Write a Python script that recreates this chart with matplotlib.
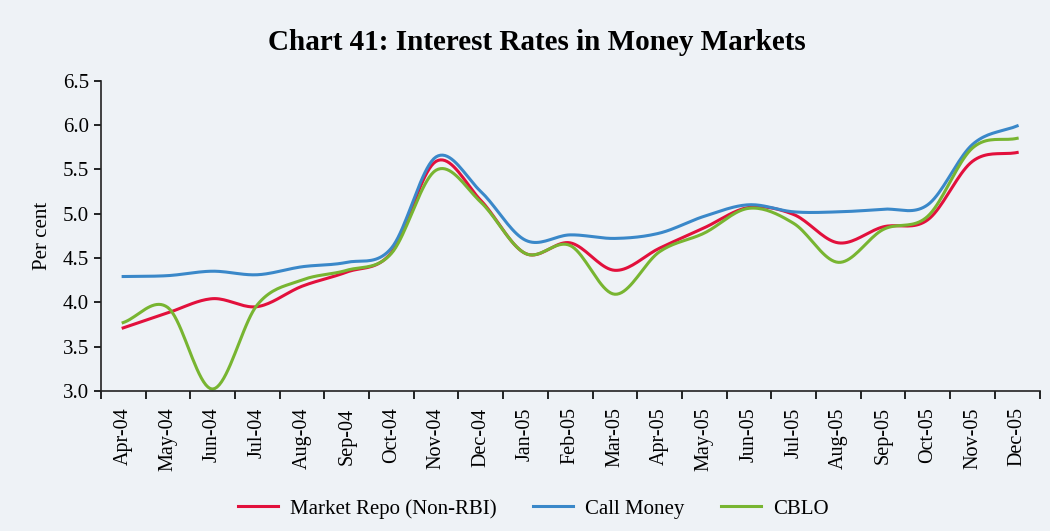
import numpy as np
import matplotlib.pyplot as plt

months = ["Apr-04", "May-04", "Jun-04", "Jul-04", "Aug-04", "Sep-04", "Oct-04",
          "Nov-04", "Dec-04", "Jan-05", "Feb-05", "Mar-05", "Apr-05", "May-05",
          "Jun-05", "Jul-05", "Aug-05", "Sep-05", "Oct-05", "Nov-05", "Dec-05"]

market_repo = [3.71, 3.88, 4.04, 3.95, 4.18, 4.34, 4.56, 5.59, 5.15, 4.55, 4.67,
               4.36, 4.61, 4.84, 5.07, 4.99, 4.67, 4.85, 4.93, 5.59, 5.69]
call_money = [4.29, 4.30, 4.35, 4.31, 4.40, 4.45, 4.61, 5.64, 5.25, 4.70, 4.76,
              4.72, 4.78, 4.97, 5.10, 5.02, 5.02, 5.05, 5.10, 5.78, 5.99]
cblo = [3.77, 3.94, 3.02, 3.97, 4.25, 4.36, 4.55, 5.49, 5.13, 4.55, 4.64,
        4.09, 4.57, 4.78, 5.06, 4.89, 4.45, 4.82, 4.97, 5.74, 5.85]

plt.rcParams["font.family"] = ["Liberation Serif", "DejaVu Serif"]


def smooth(y, steps=20):
    # Catmull-Rom curve through the monthly points
    y = np.asarray(y, dtype=float)
    x = np.arange(len(y), dtype=float)
    px = np.concatenate([[2 * x[0] - x[1]], x, [2 * x[-1] - x[-2]]])
    py = np.concatenate([[2 * y[0] - y[1]], y, [2 * y[-1] - y[-2]]])
    xs, ys = [], []
    t = np.linspace(0, 1, steps, endpoint=False)
    for i in range(1, len(px) - 2):
        for arr, out in ((px, xs), (py, ys)):
            p0, p1, p2, p3 = arr[i - 1], arr[i], arr[i + 1], arr[i + 2]
            out.append(0.5 * (2 * p1 + (-p0 + p2) * t
                              + (2 * p0 - 5 * p1 + 4 * p2 - p3) * t ** 2
                              + (-p0 + 3 * p1 - 3 * p2 + p3) * t ** 3))
    xs.append([x[-1]])
    ys.append([y[-1]])
    return np.concatenate(xs), np.concatenate(ys)


bg = "#eef2f6"
fig = plt.figure(figsize=(10.5, 5.31), dpi=100, facecolor=bg)
ax = fig.add_axes([0.096, 0.264, 0.894, 0.584], facecolor=bg)

series = [("Market Repo (Non-RBI)", market_repo, "#e2103c"),
          ("Call Money", call_money, "#3a88c9"),
          ("CBLO", cblo, "#78b531")]
for name, vals, col in series:
    sx, sy = smooth(vals)
    ax.plot(sx, sy, color=col, lw=2.2, label=name)

ax.set_xlim(-0.5, len(months) - 0.5)
ax.set_ylim(3.0, 6.5)
ax.set_yticks(np.arange(3.0, 6.51, 0.5))
ax.set_yticklabels([f"{v:.1f}" for v in np.arange(3.0, 6.51, 0.5)])
ax.set_xticks(np.arange(len(months)))
ax.set_xticklabels(months, rotation=90)
ax.set_xticks(np.arange(-0.5, len(months)), minor=True)
ax.tick_params(axis="x", which="major", length=0, pad=12, labelsize=14.5)
ax.tick_params(axis="x", which="minor", length=6, width=1.2, direction="out")
ax.tick_params(axis="y", length=5, width=1.2, labelsize=15)

for s in ["top", "right"]:
    ax.spines[s].set_visible(False)
for s in ["left", "bottom"]:
    ax.spines[s].set_linewidth(1.2)
    ax.spines[s].set_color("#222222")

ax.set_ylabel("Per cent", fontsize=15, labelpad=8)

fig.suptitle("Chart 41: Interest Rates in Money Markets", fontsize=21,
             fontweight="bold", x=0.511, y=0.945)

fig.legend(loc="lower center", bbox_to_anchor=(0.508, -0.012), ncol=3,
           frameon=False, fontsize=15, handlelength=1.9, handletextpad=0.6,
           columnspacing=1.75)

fig.savefig("out.png", dpi=100, facecolor=bg)
